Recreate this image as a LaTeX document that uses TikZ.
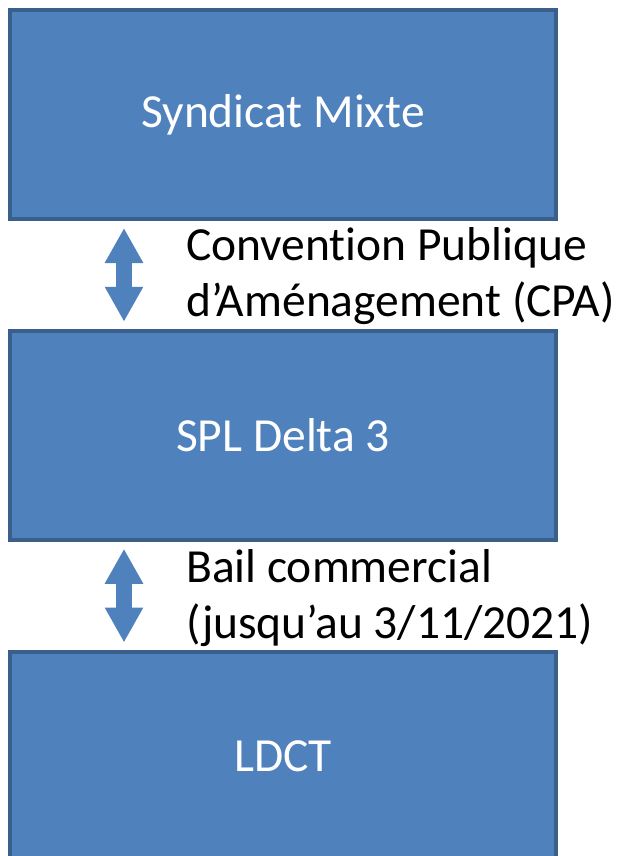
\documentclass[tikz,border=0pt]{standalone}
\usepackage{fontspec}
\setmainfont{Carlito}[Ligatures={TeX,NoCommon}]
\usetikzlibrary{arrows.meta}
\definecolor{boxblue}{HTML}{4F81BD}
\definecolor{boxline}{HTML}{3A5F8D}
\tikzstyle{entity} = [rectangle, minimum width=546pt, minimum height=209pt, text centered, draw=boxline, line width=4pt, fill=boxblue, text=white, font=\fontsize{47.5}{56}\selectfont]
\tikzstyle{link} = [boxblue, line width=16pt, {Triangle[width=36pt,length=35pt]}-{Triangle[width=36pt,length=35pt]}, shorten <=7pt, shorten >=7pt]
\tikzstyle{note} = [align=left, inner sep=0pt, anchor=base west, font=\fontsize{47.5}{56}\selectfont]

\begin{document}
\begin{tikzpicture}[node distance=320.75pt]
\useasboundingbox (0,0) rectangle (621pt,-856pt);

\node (syndicat) [entity] at (283pt,-114.5pt) {Syndicat Mixte};
\node (spl) [entity, below of=syndicat] {SPL Delta 3};
\node (ldct) [entity, below of=spl] {LDCT};

\draw [link] ([xshift=-159pt]syndicat.south) -- ([xshift=-159pt]spl.north);
\draw [link] ([xshift=-159pt]spl.south) -- ([xshift=-159pt]ldct.north);

\node (cpa) [note] at (186pt,-316pt) {Convention Publique\\d’Aménagement (CPA)};
\node (bail) [note] at (186pt,-638pt) {Bail commercial\\(jusqu’au 3/11/2021)};

\end{tikzpicture}
\end{document}
